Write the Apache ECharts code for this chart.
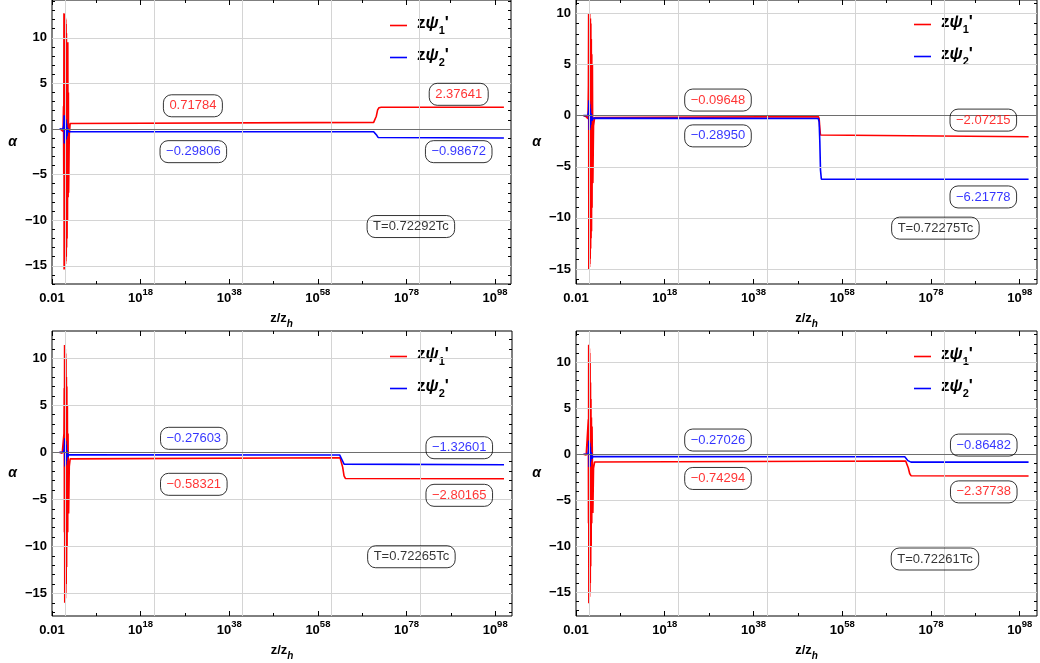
<!DOCTYPE html>
<html>
<head>
<meta charset="utf-8">
<script src="https://cdn.jsdelivr.net/npm/echarts@6/dist/echarts.min.js"></script>
<style>
  html, body { margin: 0; padding: 0; background: #fff; }
  #chart { width: 1040px; height: 663px; }
</style>
</head>
<body>
<div id="chart"></div>
<script>
// x values are log10(z/zh)
const xTickValues = [-2, 18, 38, 58, 78, 98];
const xTickLabels = ['0.01', '10^18', '10^38', '10^58', '10^78', '10^98'];
const xMinorValues = [8, 28, 48, 68, 88];
const xGridValues = [1, 21, 41, 61, 81];
const yTickValues = [-15, -10, -5, 0, 5, 10];
const yTickLabels = ['−15', '−10', '−5', '0', '5', '10'];
const yMinorValues = [-17, -16, -14, -13, -12, -11, -9, -8, -7, -6, -4, -3, -2, -1,
  1, 2, 3, 4, 6, 7, 8, 9, 11, 12, 13, 14];
const yGridValues = [-15, -10, -5, 5, 10];

// top left, T=0.72292Tc
const psi1A = [[-0.2, 0], [0.2, -0.1], [0.5, -0.25], [0.6, 2.5], [0.65, -5], [0.7, 12.7], [0.74, -15.4],
  [0.78, 12.6], [0.82, -15.3], [0.86, 12.5], [0.9, -15.2], [0.94, 12.4], [0.98, -15.0], [1.02, 12.2],
  [1.06, -14.8], [1.1, 12.0], [1.14, -14.5], [1.18, 11.5], [1.22, -14.0], [1.26, 10.5], [1.3, -13], [1.35, 9.5],
  [1.4, -12], [1.45, 9], [1.5, -10], [1.57, 9.5], [1.64, -7.5], [1.7, 4], [1.75, -7.0], [1.9, -0.6],
  [2.1, 0.6], [2.4, 0.71784], [70.6, 0.71784], [70.9, 0.8], [71.2, 1.4], [71.5, 2.1], [71.8, 2.33],
  [72.3, 2.37641], [100, 2.37641]];
const psi2A = [[-0.3, 0], [0.5, 0.02], [0.65, 0.4], [0.75, 1.5], [0.8, -1.6], [0.85, 1.4], [0.9, -1.5],
  [0.95, 1.3], [1.0, -1.4], [1.05, 1.1], [1.1, -1.2], [1.15, 1.0], [1.22, -1.1], [1.3, 0.6], [1.4, -0.8],
  [1.5, 0.1], [1.7, -0.3], [2.0, -0.29806], [70.6, -0.29806], [71.0, -0.38], [71.3, -0.7], [71.6, -0.93],
  [72.0, -0.98672], [100, -0.98672]];
const notesA = [[29.8, 2.54, '0.71784', 'psi1'], [29.9, -2.49, '−0.29806', 'psi2'],
  [89.8, 3.8, '2.37641', 'psi1'], [89.8, -2.49, '−0.98672', 'psi2'], [79.0, -10.7, 'T=0.72292Tc', 'T']];

// top right, T=0.72275Tc
const psi1B = [[-0.3, 0], [0.3, -0.1], [0.7, -0.3], [0.8, 3], [0.85, 10.0], [0.89, -15.0], [0.93, 10.0],
  [0.97, -15.0], [1.01, 10.0], [1.05, -14.8], [1.09, 10.0], [1.13, -14.5], [1.17, 9.5], [1.21, -14],
  [1.25, 9.5], [1.3, -13], [1.35, 9], [1.4, -12], [1.45, 7.5], [1.5, -11.3], [1.56, 6], [1.62, -9], [1.7, 5],
  [1.8, -6.6], [1.95, -1.0], [2.2, -0.2], [2.6, -0.09648], [52.6, -0.09648], [52.8, -0.3], [52.95, -1.2],
  [53.1, -1.9], [53.3, -2.07215], [100, -2.07215]];
const psi2B = [[-0.3, 0], [0.7, 0.02], [0.85, 0.5], [0.92, 1.5], [0.97, -1.4], [1.02, 1.4], [1.07, -1.4],
  [1.12, 1.1], [1.17, -1.2], [1.24, 0.7], [1.32, -0.9], [1.45, 0.2], [1.6, -0.5], [1.8, -0.25],
  [2.0, -0.2895], [52.6, -0.2895], [52.8, -0.6], [52.95, -2.5], [53.1, -5.3], [53.3, -6.21778],
  [100, -6.21778]];
const notesB = [[30.0, 1.52, '−0.09648', 'psi1'], [30.0, -1.98, '−0.28950', 'psi2'],
  [89.8, -0.44, '−2.07215', 'psi1'], [89.8, -7.95, '−6.21778', 'psi2'], [79.0, -11.0, 'T=0.72275Tc', 'T']];

// bottom left, T=0.72265Tc
const psi1C = [[-0.3, 0], [0.3, -0.1], [0.6, -0.3], [0.7, 2], [0.76, 6.8], [0.8, -8.5], [0.84, 11.4],
  [0.88, -16.0], [0.92, 11.3], [0.96, -15.8], [1.0, 11.0], [1.04, -15.5], [1.08, 10.5], [1.12, -15],
  [1.16, 10], [1.2, -14], [1.25, 8], [1.3, -12.2], [1.35, 7], [1.4, -10], [1.47, 5], [1.55, -8.5], [1.62, 2],
  [1.75, -6.5], [1.9, -1.5], [2.1, -0.7], [2.45, -0.58321], [63.0, -0.58321], [63.3, -0.75], [63.6, -1.6],
  [63.9, -2.5], [64.2, -2.78], [64.6, -2.80165], [100, -2.80165]];
const psi2C = [[-0.3, 0], [0.6, 0.02], [0.8, 0.5], [0.88, 1.5], [0.93, -1.5], [0.98, 1.4], [1.03, -1.4],
  [1.08, 1.2], [1.13, -1.3], [1.2, 0.8], [1.28, -0.9], [1.4, 0.2], [1.55, -0.5], [1.75, -0.25],
  [2.0, -0.27603], [62.9, -0.27603], [63.3, -0.45], [63.6, -0.95], [63.9, -1.25], [64.3, -1.32601],
  [100, -1.32601]];
const notesC = [[30.0, 1.49, '−0.27603', 'psi2'], [30.0, -3.4, '−0.58321', 'psi1'],
  [89.9, 0.49, '−1.32601', 'psi2'], [89.9, -4.57, '−2.80165', 'psi1'], [79.1, -11.1, 'T=0.72265Tc', 'T']];

// bottom right, T=0.72261Tc
const psi1D = [[-0.3, 0], [0.3, -0.1], [0.7, -0.3], [0.78, 3.8], [0.82, -7.5], [0.86, 11.9], [0.9, -16.2],
  [0.94, 11.8], [0.98, -16.0], [1.02, 11.5], [1.06, -15.5], [1.1, 11], [1.14, -15], [1.18, 10], [1.22, -14],
  [1.27, 7.8], [1.32, -12.2], [1.37, 6], [1.42, -10], [1.48, 4], [1.55, -7.5], [1.62, 3], [1.8, -6.4],
  [1.95, -1.5], [2.2, -0.85], [2.6, -0.74294], [72.3, -0.74294], [72.6, -0.9], [72.9, -1.5], [73.2, -2.1],
  [73.5, -2.34], [73.9, -2.37738], [100, -2.37738]];
const psi2D = [[-0.3, 0], [0.7, 0.02], [0.85, 0.5], [0.92, 1.5], [0.97, -1.4], [1.02, 1.4], [1.07, -1.4],
  [1.12, 1.2], [1.17, -1.3], [1.24, 0.8], [1.32, -0.8], [1.45, 0.2], [1.6, -0.5], [1.8, -0.25],
  [2.0, -0.27026], [72.1, -0.27026], [72.5, -0.4], [72.8, -0.7], [73.1, -0.84], [73.5, -0.86482],
  [100, -0.86482]];
const notesD = [[30.0, 1.54, '−0.27026', 'psi2'], [30.0, -2.64, '−0.74294', 'psi1'],
  [89.9, 0.99, '−0.86482', 'psi2'], [89.9, -4.1, '−2.37738', 'psi1'], [78.9, -11.4, 'T=0.72261Tc', 'T']];

const FONT = '"Liberation Sans", Arial, sans-serif';
const RED = '#ff0000';
const BLUE = '#0000ff';
const noteColors = { psi1: RED, psi2: BLUE, T: '#000' };

const panels = [
  { grid: { left: 52, top: 0, width: 459, height: 284 }, xMax: 101.6, yMin: -17.0, yMax: 14.14,
    psi1: psi1A, psi2: psi2A, notes: notesA, legend: { left: 390, top: 15 } },
  { grid: { left: 576, top: 0, width: 461, height: 284 }, xMax: 101.9, yMin: -16.46, yMax: 11.3,
    psi1: psi1B, psi2: psi2B, notes: notesB, legend: { left: 914, top: 14 } },
  { grid: { left: 52, top: 331, width: 460, height: 285 }, xMax: 101.8, yMin: -17.4, yMax: 12.9,
    psi1: psi1C, psi2: psi2C, notes: notesC, legend: { left: 390, top: 346 } },
  { grid: { left: 576, top: 331, width: 461, height: 285 }, xMax: 101.9, yMin: -17.6, yMax: 13.4,
    psi1: psi1D, psi2: psi2D, notes: notesD, legend: { left: 914, top: 346 } },
];

function xLabel(value) {
  const s = xTickLabels[xTickValues.indexOf(value)];
  if (s === undefined) return '';
  const parts = s.split('^');
  return parts.length > 1 ? '{b|' + parts[0] + '}{s|' + parts[1] + '}' : '{b|' + s + '}';
}

function yLabel(value) {
  const s = yTickLabels[yTickValues.indexOf(value)];
  return s === undefined ? '' : s;
}

function makeAxes(gi, p) {
  const xs = [];
  const ys = [];
  ['bottom', 'top'].forEach((pos) => {
    [xTickValues, xMinorValues].forEach((vals, k) => {
      const labelled = pos === 'bottom' && k === 0;
      xs.push({
        type: 'value', gridIndex: gi, position: pos, min: -2, max: p.xMax,
        axisLine: { show: false, onZero: false },
        splitLine: { show: false },
        axisTick: { show: true, inside: true, length: k === 0 ? 5 : 3, customValues: vals,
          lineStyle: { color: '#000', width: 1 } },
        axisLabel: labelled ? {
          show: true, customValues: xTickValues, formatter: xLabel, margin: 3,
          rich: {
            b: { fontFamily: FONT, fontSize: 13, fontWeight: 'bold', color: '#000', lineHeight: 18, verticalAlign: 'bottom' },
            s: { fontFamily: FONT, fontSize: 9.5, fontWeight: 'bold', color: '#000', lineHeight: 18, verticalAlign: 'top' },
          },
        } : { show: false },
        name: labelled ? '{b|z/z}{s|h}' : '',
        nameLocation: 'middle',
        nameGap: 28,
        nameTextStyle: {
          rich: {
            b: { fontFamily: FONT, fontSize: 13, fontWeight: 'bold', color: '#000', lineHeight: 17, verticalAlign: 'top' },
            s: { fontFamily: FONT, fontSize: 10, fontWeight: 'bold', fontStyle: 'italic', color: '#000', lineHeight: 17, verticalAlign: 'bottom' },
          },
        },
      });
    });
  });
  ['left', 'right'].forEach((pos) => {
    [yTickValues, yMinorValues].forEach((vals, k) => {
      const labelled = pos === 'left' && k === 0;
      ys.push({
        type: 'value', gridIndex: gi, position: pos, min: p.yMin, max: p.yMax,
        axisLine: { show: false, onZero: false },
        splitLine: { show: false },
        axisTick: { show: true, inside: true, length: k === 0 ? 5 : 3, customValues: vals,
          lineStyle: { color: '#000', width: 1 } },
        axisLabel: labelled ? {
          show: true, customValues: yTickValues, formatter: yLabel, margin: 5,
          fontFamily: FONT, fontSize: 13, fontWeight: 'bold', color: '#000',
        } : { show: false },
        name: labelled ? 'α' : '',
        nameLocation: 'middle',
        nameRotate: 0,
        nameGap: 35,
        nameTextStyle: { fontFamily: FONT, fontSize: 14, fontWeight: 'bold', fontStyle: 'italic', color: '#000' },
      });
    });
  });
  return { xs, ys };
}

const option = {
  animation: false,
  backgroundColor: '#fff',
  grid: [],
  xAxis: [],
  yAxis: [],
  legend: [],
  series: [],
};

panels.forEach((p, gi) => {
  option.grid.push(Object.assign({ show: true, borderColor: '#000', borderWidth: 1,
    backgroundColor: 'transparent', containLabel: false }, p.grid));
  const axes = makeAxes(gi, p);
  option.xAxis.push(...axes.xs);
  option.yAxis.push(...axes.ys);
  const xi = gi * 4;
  const yi = gi * 4;

  option.legend.push({
    orient: 'vertical', left: p.legend.left, top: p.legend.top, padding: 0,
    itemGap: 11, itemWidth: 17, itemHeight: 1.6, icon: 'rect',
    data: ['psi1', 'psi2'],
    formatter: (name) => '{g| }{m|z}{i|ψ}{s|' + (name === 'psi1' ? '1' : '2') + '}{m|\'}',
    textStyle: {
      rich: {
        g: { width: 5 },
        m: { fontFamily: FONT, fontSize: 17, fontWeight: 'bold', color: '#000', lineHeight: 21, verticalAlign: 'top' },
        i: { fontFamily: FONT, fontSize: 17, fontWeight: 'bold', fontStyle: 'italic', color: '#000', lineHeight: 21, verticalAlign: 'top' },
        s: { fontFamily: FONT, fontSize: 11, fontWeight: 'bold', color: '#000', lineHeight: 21, verticalAlign: 'bottom' },
      },
    },
  });

  // grid lines and the zero axis
  option.series.push({
    type: 'line', xAxisIndex: xi, yAxisIndex: yi, data: [], z: 1, silent: true,
    markLine: {
      silent: true, symbol: 'none', label: { show: false }, animation: false,
      lineStyle: { color: '#d4d4d4', width: 1, type: 'solid' },
      data: xGridValues.map((v) => ({ xAxis: v }))
        .concat(yGridValues.map((v) => ({ yAxis: v })))
        .concat([{ yAxis: 0, lineStyle: { color: '#6e6e6e', width: 1, type: 'solid' } }]),
    },
  });

  option.series.push({
    name: 'psi1', type: 'line', xAxisIndex: xi, yAxisIndex: yi, data: p.psi1, z: 3,
    symbol: 'none', color: RED, lineStyle: { color: RED, width: 1.6 },
  });
  option.series.push({
    name: 'psi2', type: 'line', xAxisIndex: xi, yAxisIndex: yi, data: p.psi2, z: 4,
    symbol: 'none', color: BLUE, lineStyle: { color: BLUE, width: 1.6 },
  });

  option.series.push({
    type: 'scatter', xAxisIndex: xi, yAxisIndex: yi, z: 5, silent: true,
    symbol: 'circle', symbolSize: 0,
    data: p.notes.map((n) => ({
      value: [n[0], n[1]],
      label: { formatter: n[2], color: noteColors[n[3]] },
    })),
    label: {
      show: true, position: 'inside', fontFamily: FONT, fontSize: 13,
      borderColor: '#000', borderWidth: 1, borderRadius: 8, padding: [5, 6, 4, 6],
    },
  });
});

const chart = echarts.init(document.getElementById('chart'));
chart.setOption(option);
</script>
</body>
</html>
